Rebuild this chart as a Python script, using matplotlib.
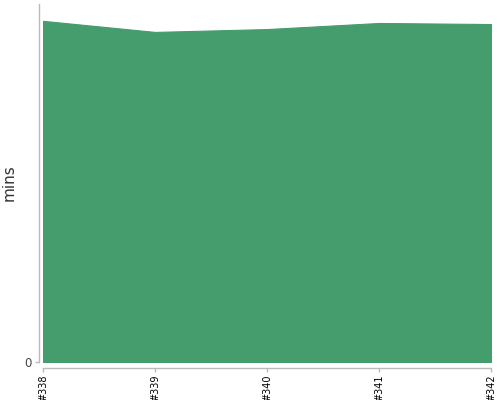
import matplotlib
matplotlib.use("Agg")
import matplotlib.pyplot as plt

builds = ["#338", "#339", "#340", "#341", "#342"]
minutes = [95.3, 92.2, 93.0, 94.7, 94.4]

fig = plt.figure(figsize=(5, 4), dpi=100)
ax = fig.add_axes([43/500, 1 - 362/400, (491 - 43)/500, (362 - 4)/400])

x = list(range(len(builds)))
ax.fill_between(x, 0, minutes, color="#459c6c", linewidth=0.8, edgecolor="#459c6c")

ax.set_xlim(0, len(builds) - 1)
ax.set_ylim(0, 100)

for s in ["top", "right"]:
    ax.spines[s].set_visible(False)
ax.spines["left"].set_position(("outward", 3))
ax.spines["bottom"].set_position(("outward", 4))
for s in ["left", "bottom"]:
    ax.spines[s].set_color("#bbbbbb")
    ax.spines[s].set_linewidth(1)
ax.tick_params(axis="both", colors="#bbbbbb", length=3, width=1)
ax.tick_params(axis="x", labelcolor="#000000", pad=2, labelrotation=90)
ax.tick_params(axis="y", labelcolor="#444444", pad=2)

ax.set_xticks(x)
ax.set_xticklabels(builds, fontsize=7, family="DejaVu Sans", color="#000000")
ax.set_yticks([0])
ax.set_yticklabels(["0"], fontsize=8.5, color="#444444", family="DejaVu Sans")

ax.set_ylabel("mins", fontsize=11, color="#333333", family="DejaVu Sans")
ax.yaxis.set_label_coords(-0.058, 0.5)

fig.savefig("out.png", dpi=100)
